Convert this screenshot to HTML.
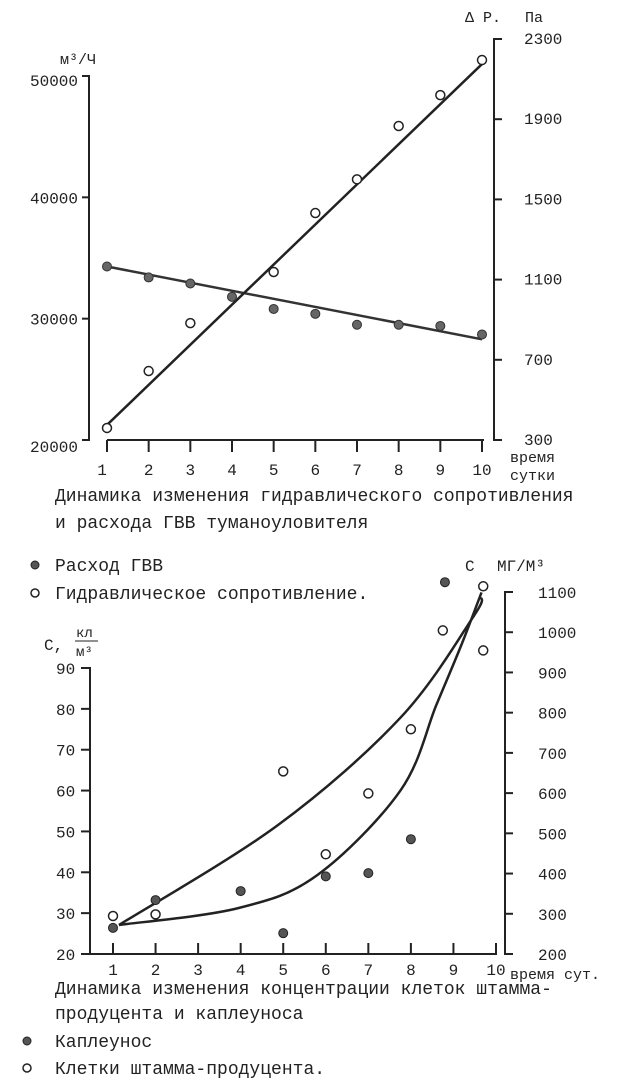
<!DOCTYPE html>
<html><head><meta charset="utf-8"><style>
html,body{margin:0;padding:0;background:#fff;}
svg{display:block;}
text{font-family:"Liberation Mono",monospace;fill:#222;}
</style></head><body>
<svg id="s" width="618" height="1081" viewBox="0 0 618 1081" xmlns="http://www.w3.org/2000/svg">
<g id="top"></g>
<g id="bot"></g>
<g font-size="18">
<text x="55" y="501">Динамика изменения гидравлического сопротивления</text>
<text x="55" y="528">и расхода ГВВ туманоуловителя</text>
<circle cx="35" cy="565" r="4" fill="#555" stroke="#222"/>
<text x="55" y="571">Расход ГВВ</text>
<circle cx="35" cy="593" r="4" fill="none" stroke="#222" stroke-width="1.5"/>
<text x="55" y="599">Гидравлическое сопротивление.</text>
<text x="55" y="994">Динамика изменения концентрации клеток штамма-</text>
<text x="55" y="1019">продуцента и каплеуноса</text>
<circle cx="27" cy="1041" r="4" fill="#555" stroke="#222"/>
<text x="55" y="1047">Каплеунос</text>
<circle cx="27" cy="1068" r="4" fill="none" stroke="#222" stroke-width="1.5"/>
<text x="55" y="1074">Клетки штамма-продуцента.</text>
</g>
</svg>
<script>
// ---- top chart data ----
const topDays=[1,2,3,4,5,6,7,8,9,10];
const topLeftTicks=[20000,30000,40000,50000];
const topRightTicks=[300,700,1100,1500,1900,2300];
const gvvDays=[1,2,3,4,5,6,7,8,9,10];
const gvvValues=[34300,33400,32900,31800,30800,30400,29500,29500,29400,28700];
const gvvLineDays=[1,10];
const gvvLineValues=[34300,28300];
const resDays=[1,2,3,5,6,7,8,9,10];
const resValues=[360,644,883,1138,1432,1600,1866,2020,2195];
const resLineDays=[1,10];
const resLineValues=[375,2175];
// ---- bottom chart data ----
const botDays=[1,2,3,4,5,6,7,8,9,10];
const botLeftTicks=[20,30,40,50,60,70,80,90];
const botRightTicks=[200,300,400,500,600,700,800,900,1000,1100];
const kapDays=[1,2,4,5,6,7,8,8.8];
const kapValues=[26.4,33.2,35.4,25.1,39,39.8,48.1,111];
const cellDays=[1,2,5,6,7,8,8.75,9.7,9.7];
const cellValues=[29.3,29.7,64.7,44.4,59.3,75,99.2,110,94.3];
const upperCurveDays=[1.14,4.87,7.76,9.47,9.66];
const upperCurveValues=[27.1,51.5,77.9,102.6,107.3];
const lowerCurveDays=[1.14,3.93,5.8,7.76,8.6,9.2,9.66];
const lowerCurveValues=[27.1,31.2,39.3,60.1,81,96,108.5];

const NS='http://www.w3.org/2000/svg';
function mk(p,t,a){const e=document.createElementNS(NS,t);for(const k in a)e.setAttribute(k,a[k]);p.appendChild(e);return e;}
function lin(d0,d1,r0,r1){return v=>r0+(v-d0)/(d1-d0)*(r1-r0);}

// TOP
const T=document.getElementById('top');
const tx=lin(1,10,107,482), tyL=lin(20000,50000,440,76), tyR=lin(300,2300,440,39);
let e;
e=mk(T,'path',{d:'M82 76 H89 V440 H82',fill:'none',stroke:'#222','stroke-width':2});

e=mk(T,'path',{d:'M502 39 H494 V440 H502',fill:'none',stroke:'#222','stroke-width':2});

e=mk(T,'line',{x1:107,x2:484,y1:440,y2:440,stroke:'#222','stroke-width':2});

topLeftTicks.forEach(v=>{const y=tyL(v);mk(T,'line',{x1:82,x2:89,y1:y,y2:y,stroke:'#222','stroke-width':2});
 e=mk(T,'text',{x:78,y:y+(v===20000?12:(v===50000?10:6)),'font-size':16,'text-anchor':'end'});e.textContent=v;
 });
topRightTicks.forEach(v=>{const y=tyR(v);mk(T,'line',{x1:494,x2:502,y1:y,y2:y,stroke:'#222','stroke-width':2});
 e=mk(T,'text',{x:524,y:y+5,'font-size':16});e.textContent=v;
 });
topDays.forEach(d=>{const x=tx(d);mk(T,'line',{x1:x,x2:x,y1:440,y2:452,stroke:'#222','stroke-width':2});
 e=mk(T,'text',{x:x-(d===1?5:0),y:475,'font-size':16,'text-anchor':'middle'});e.textContent=d;
 });
[['м³/Ч',60,64,15,'top-left-unit'],['Δ Р.',465,22,15,'top-right-symbol'],['Па',525,22,15,'top-right-unit'],['время',510,462,15,'top-x-title-1'],['сутки',510,480,15,'top-x-title-2']].forEach(a=>{
 e=mk(T,'text',{x:a[1],y:a[2],'font-size':a[3]});e.textContent=a[0];});
e=mk(T,'line',{x1:tx(gvvLineDays[0]),y1:tyL(gvvLineValues[0]),x2:tx(gvvLineDays[1]),y2:tyL(gvvLineValues[1]),stroke:'#333','stroke-width':2.5});

e=mk(T,'line',{x1:tx(resLineDays[0]),y1:tyR(resLineValues[0]),x2:tx(resLineDays[1]),y2:tyR(resLineValues[1]),stroke:'#222','stroke-width':2.5});

gvvDays.forEach((d,i)=>{e=mk(T,'circle',{cx:tx(d),cy:tyL(gvvValues[i]),r:4.5,fill:'#666',stroke:'#333','stroke-width':1});
 });
resDays.forEach((d,i)=>{e=mk(T,'circle',{cx:tx(d),cy:tyR(resValues[i]),r:4.5,fill:'#fff',stroke:'#222','stroke-width':1.5});
 });

// BOTTOM
const B=document.getElementById('bot');
const bx=lin(1,10,113,496), byL=lin(20,90,954,668), byR=lin(200,1100,954,592);
e=mk(B,'path',{d:'M81 668 H90 V954 H81',fill:'none',stroke:'#222','stroke-width':2});

e=mk(B,'path',{d:'M513 592 H505 V954 H513',fill:'none',stroke:'#222','stroke-width':2});

e=mk(B,'line',{x1:90,x2:497,y1:954,y2:954,stroke:'#222','stroke-width':2});

botLeftTicks.forEach(v=>{const y=byL(v);mk(B,'line',{x1:81,x2:90,y1:y,y2:y,stroke:'#222','stroke-width':2});
 e=mk(B,'text',{x:56,y:y+6,'font-size':16});e.textContent=v;
 });
botRightTicks.forEach(v=>{const y=byR(v);mk(B,'line',{x1:505,x2:513,y1:y,y2:y,stroke:'#222','stroke-width':2});
 e=mk(B,'text',{x:538,y:y+6,'font-size':16});e.textContent=v;
 });
botDays.forEach(d=>{const x=bx(d);mk(B,'line',{x1:x,x2:x,y1:943,y2:954,stroke:'#222','stroke-width':2});
 e=mk(B,'text',{x:x,y:975,'font-size':16,'text-anchor':'middle'});e.textContent=d;
 });
[['С,',44,650,16,'bottom-left-symbol'],['кл',76,637,14,'bottom-left-unit-num'],['м³',76,656,14,'bottom-left-unit-den'],['С',465,571,16,'bottom-right-symbol'],['МГ/М³',497,571,16,'bottom-right-unit'],['время сут.',510,979,15,'bottom-x-title']].forEach(a=>{
 e=mk(B,'text',{x:a[1],y:a[2],'font-size':a[3]});e.textContent=a[0];});
mk(B,'line',{x1:75,x2:98,y1:641,y2:641,stroke:'#222','stroke-width':1});
function curve(ds,vs){let d='';const p=ds.map((x,i)=>[bx(x),byL(vs[i])]);
 d='M'+p[0][0]+' '+p[0][1];for(let i=0;i<p.length-1;i++){const p0=p[i-1]||p[i],p1=p[i],p2=p[i+1],p3=p[i+2]||p2;
 d+=' C'+(p1[0]+(p2[0]-p0[0])/6)+' '+(p1[1]+(p2[1]-p0[1])/6)+' '+(p2[0]-(p3[0]-p1[0])/6)+' '+(p2[1]-(p3[1]-p1[1])/6)+' '+p2[0]+' '+p2[1];}return d;}
e=mk(B,'path',{d:curve(upperCurveDays,upperCurveValues),fill:'none',stroke:'#222','stroke-width':2.5});

e=mk(B,'path',{d:curve(lowerCurveDays,lowerCurveValues),fill:'none',stroke:'#222','stroke-width':2.5});

kapDays.forEach((d,i)=>{e=mk(B,'circle',{cx:bx(d),cy:byL(kapValues[i]),r:4.5,fill:'#555',stroke:'#222','stroke-width':1});
 });
cellDays.forEach((d,i)=>{e=mk(B,'circle',{cx:bx(d),cy:byL(cellValues[i]),r:4.5,fill:'#fff',stroke:'#222','stroke-width':1.5});
 });
</script>
</body></html>
